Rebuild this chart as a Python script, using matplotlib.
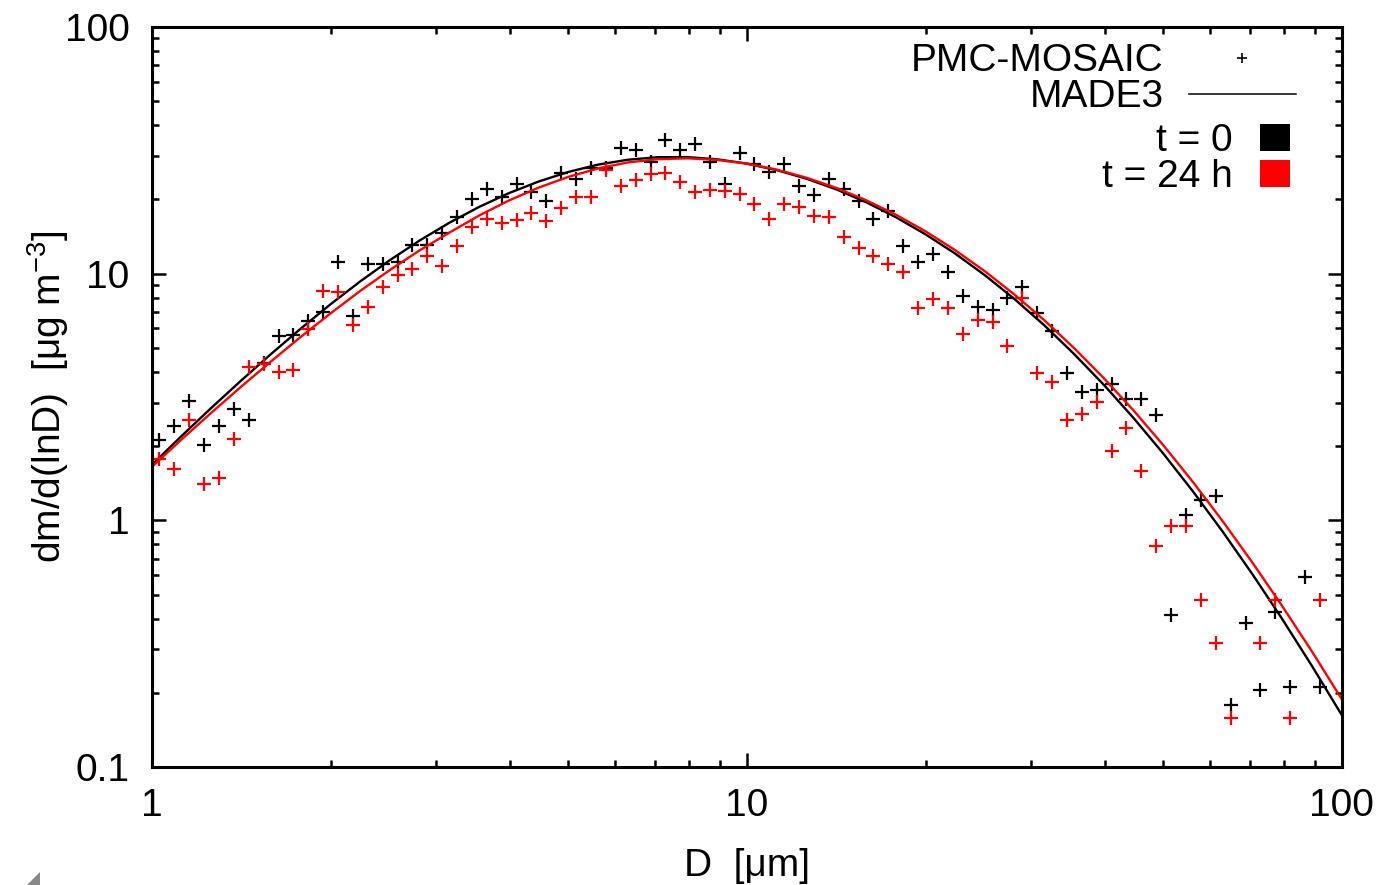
import numpy as np
import matplotlib
matplotlib.use("Agg")
import matplotlib.pyplot as plt
from matplotlib.lines import Line2D
from matplotlib.patches import Patch, Polygon

plt.rcParams['font.family'] = ['Liberation Sans', 'DejaVu Sans']
plt.rcParams['mathtext.fontset'] = 'custom'
plt.rcParams['mathtext.rm'] = 'Liberation Sans'
plt.rcParams['mathtext.it'] = 'Liberation Sans'

# bin centres [um] of the particle model (40 bins per decade)
D_bins = [1.029, 1.090, 1.155, 1.223, 1.296, 1.373, 1.454, 1.540, 1.632, 1.728,
          1.831, 1.939, 2.054, 2.176, 2.305, 2.442, 2.587, 2.740, 2.902, 3.075,
          3.257, 3.450, 3.655, 3.871, 4.101, 4.344, 4.601, 4.874, 5.163, 5.470,
          5.794, 6.137, 6.501, 6.887, 7.295, 7.728, 8.186, 8.671, 9.185, 9.730,
          10.29, 10.90, 11.55, 12.23, 12.96, 13.73, 14.54, 15.40, 16.32, 17.28,
          18.31, 19.39, 20.54, 21.76, 23.05, 24.42, 25.87, 27.40, 29.02, 30.75,
          32.57, 34.50, 36.55, 38.71, 41.01, 43.44, 46.01, 48.74, 51.63, 54.70,
          57.94, 61.37, 65.01, 68.87, 72.95, 77.28, 81.86, 86.71, 91.85]

# PMC-MOSAIC particle results, dm/d(lnD) [ug m-3]
pmc_t0 = [2.11, 2.41, 3.06, 2.02, 2.41, 2.84, 2.56, 4.34, 5.60, 5.65,
          6.40, 7.02, 11.2, 6.76, 10.9, 10.9, 11.2, 13.1, 13.1, 14.6,
          17.0, 20.0, 22.1, 20.5, 23.1, 21.5, 19.7, 25.6, 24.3, 26.7,
          26.7, 32.4, 31.8, 28.4, 34.9, 31.8, 33.7, 28.4, 23.0, 30.8,
          27.9, 25.9, 27.9, 22.6, 20.8, 24.3, 22.1, 19.7, 16.6, 17.9,
          12.9, 11.1, 12.0, 10.2, 8.12, 7.31, 7.13, 7.95, 8.81, 6.95,
          5.88, 3.95, 3.30, 3.39, 3.58, 3.09, 3.10, 2.68, 0.413, 1.05,
          1.21, 1.25, 0.179, 0.383, 0.206, 0.426, 0.211, 0.590, 0.211]
pmc_t24 = [1.78, 1.62, 2.56, 1.40, 1.49, 2.14, 4.18, 4.31, 3.98, 4.08,
           5.98, 8.53, 8.43, 6.20, 7.31, 8.86, 9.88, 10.4, 11.8, 10.7,
           12.9, 15.4, 16.6, 16.1, 16.5, 17.6, 16.3, 18.5, 20.5, 20.5,
           26.3, 22.6, 23.9, 25.3, 25.6, 23.5, 21.5, 21.9, 21.7, 21.1,
           19.1, 16.6, 19.1, 18.7, 17.1, 17.0, 14.1, 12.7, 11.8, 10.9,
           10.2, 7.25, 7.90, 7.29, 5.70, 6.50, 6.34, 5.07, 7.95, 3.95,
           3.64, 2.54, 2.71, 3.02, 1.91, 2.37, 1.58, 0.787, 0.948, 0.948,
           0.476, 0.317, 0.158, np.nan, 0.317, 0.476, 0.158, np.nan, 0.476]

# MADE3 modal distribution
D_made = [1.0, 1.122, 1.259, 1.413, 1.585, 1.778, 1.995, 2.239, 2.512, 2.818,
          3.162, 3.548, 3.981, 4.467, 5.012, 5.623, 6.310, 7.079, 7.943, 8.913,
          10.0, 11.22, 12.59, 14.13, 15.85, 17.78, 19.95, 22.39, 25.12, 28.18,
          31.62, 35.48, 39.81, 44.67, 50.12, 56.23, 63.10, 70.79, 79.43, 89.13, 100.0]
made_t0 = [1.679, 2.200, 2.861, 3.691, 4.721, 5.983, 7.508, 9.303, 11.35, 13.63,
           16.09, 18.65, 21.21, 23.64, 25.85, 27.68, 28.97, 29.66, 29.68, 29.08,
           27.93, 26.29, 24.27, 21.97, 19.50, 16.96, 14.45, 12.06, 9.85, 7.88,
           6.17, 4.72, 3.54, 2.596, 1.862, 1.307, 0.897, 0.603, 0.397, 0.256, 0.162]
made_t24 = [1.648, 2.130, 2.733, 3.485, 4.406, 5.538, 6.895, 8.514, 10.35, 12.43,
            14.67, 17.21, 19.80, 22.33, 24.69, 26.71, 28.25, 29.11, 29.35, 28.91,
            27.93, 26.41, 24.49, 22.27, 19.86, 17.36, 14.86, 12.45, 10.22, 8.22,
            6.47, 4.99, 3.767, 2.785, 2.014, 1.427, 0.989, 0.672, 0.448, 0.293, 0.188]

FS = 28

fig = plt.figure(figsize=(13.85, 8.85), dpi=100)
ax = fig.add_axes([0.1097, 0.1333, 0.8592, 0.8362])

ax.plot(D_bins, pmc_t0, ls='none', marker='+', ms=10, mew=1.6, color='black')
ax.plot(D_made, made_t0, color='black', lw=1.7)
ax.plot(D_bins, pmc_t24, ls='none', marker='+', ms=10, mew=1.6, color='red')
ax.plot(D_made, made_t24, color='red', lw=1.7)

ax.set_xscale('log')
ax.set_yscale('log')
ax.set_xlim(1, 100)
ax.set_ylim(0.1, 100)
ax.set_xticks([1, 10, 100], ['1', '10', '100'])
ax.set_yticks([0.1, 1, 10, 100], ['0.1', '1', '10', '100'])

for s in ax.spines.values():
    s.set_linewidth(2.2)
ax.tick_params(which='both', direction='in', top=True, right=True, width=1.8)
ax.tick_params(which='major', length=10, labelsize=FS)
ax.tick_params(which='minor', length=5)
ax.tick_params(axis='x', which='major', pad=15)
ax.tick_params(axis='y', which='major', pad=16)

ax.set_xlabel('D  [μm]', fontsize=FS)
ax.set_ylabel('dm/d(lnD)  [μg m$^{-3}$]', fontsize=FS)
ax.xaxis.set_label_coords(0.5, -0.110)
ax.yaxis.set_label_coords(-0.068, 0.5)

leg1 = ax.legend(handles=[Line2D([], [], ls='none', marker='+', color='black', ms=6.5, mew=1.2),
                          Line2D([], [], color='black', lw=1.1)],
                 labels=['PMC-MOSAIC', 'MADE3'], loc='upper right',
                 bbox_to_anchor=(0.961, 0.978), frameon=False, markerfirst=False,
                 handlelength=2.75, handletextpad=0.64, labelspacing=0.0,
                 borderpad=0, borderaxespad=0, fontsize=FS)
ax.add_artist(leg1)
ax.legend(handles=[Patch(fc='black', ec='none'), Patch(fc='red', ec='none')],
          labels=['t = 0', 't = 24 h'], loc='upper right',
          bbox_to_anchor=(0.9563, 0.870), frameon=False, markerfirst=False,
          handlelength=0.77, handleheight=0.67, handletextpad=0.7, labelspacing=0.0,
          borderpad=0, borderaxespad=0, fontsize=FS)

# resize grip in the bottom-left corner of the screenshot
fig.add_artist(Polygon([[40 / 1385, 1 - 872 / 885], [27 / 1385, 0], [40 / 1385, 0]],
                       closed=True, transform=fig.transFigure, fc='#888888', ec='none'))

fig.savefig('out.png', dpi=100)
